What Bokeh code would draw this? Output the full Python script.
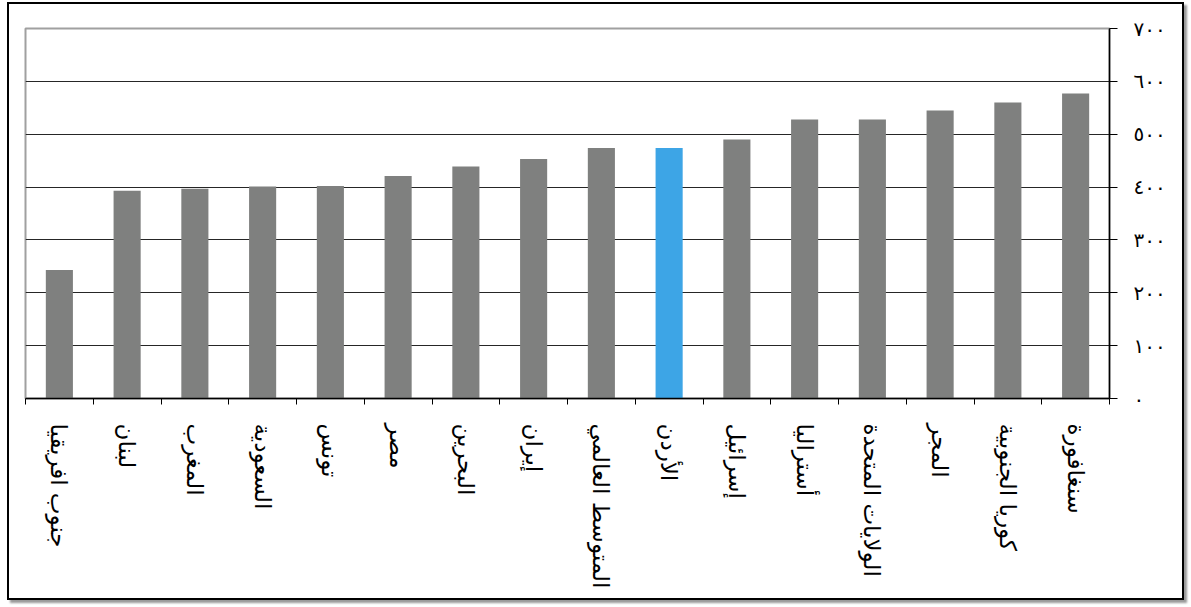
from bokeh.plotting import figure
from bokeh.models import LinearAxis, FixedTicker, Range1d
from bokeh.embed import file_html
from bokeh.resources import INLINE

countries = ["جنوب افريقيا", "لبنان", "المغرب", "السعودية", "تونس", "مصر", "البحرين", "إيران",
             "المتوسط العالمي", "الأردن", "إسرائيل", "أستراليا", "الولايات المتحدة", "المجر",
             "كوريا الجنوبية", "سنغافورة"]
scores = [243, 393, 397, 401, 402, 421, 439, 453, 474, 474, 490, 528, 528, 545, 560, 577]
highlight = "الأردن"
y_ticks = [0, 100, 200, 300, 400, 500, 600, 700]
y_tick_labels = ["٠", "١٠٠", "٢٠٠", "٣٠٠", "٤٠٠", "٥٠٠", "٦٠٠", "٧٠٠"]

n = len(countries)
xs = [i + 0.5 for i in range(n)]
colors = ["#3DA5E6" if c == highlight else "#7F807F" for c in countries]

FONT = "DejaVu Sans"

p = figure(width=1177, height=598, output_backend="svg", toolbar_location=None,
           x_range=Range1d(0, n), y_range=Range1d(0, 700),
           x_axis_location=None, y_axis_location="right",
           min_border_left=16, min_border_top=24, min_border_right=77, min_border_bottom=204)
p.styles = {"border": "2px solid black", "box-shadow": "3px 3px 2px #9a9a9a",
            "margin-left": "7px", "margin-top": "2px"}

p.vbar(x=xs, top=scores, width=0.4, color=colors, line_color=None)

# frame outline (top/left grey)
p.outline_line_color = "#A0A0A0"
p.outline_line_width = 2

# grid
p.xgrid.visible = False
p.ygrid.ticker = FixedTicker(ticks=y_ticks[1:-1])
p.ygrid.grid_line_color = "#262626"
p.ygrid.grid_line_width = 1

# right y axis
ya = p.yaxis[0]
ya.ticker = FixedTicker(ticks=y_ticks)
ya.major_label_overrides = {t: lab for t, lab in zip(y_ticks, y_tick_labels)}
ya.minor_tick_line_color = None
ya.major_tick_out = 8
ya.major_tick_in = 0
ya.axis_line_color = "black"
ya.axis_line_width = 1.5
ya.major_tick_line_color = "black"
ya.major_label_standoff = 16
ya.major_label_text_font = FONT
ya.major_label_text_font_size = "20px"
ya.major_label_text_color = "black"

# x axis: ticks at category boundaries
bounds = list(range(n + 1))
xa = LinearAxis(ticker=FixedTicker(ticks=bounds))
xa.major_label_overrides = {b: "" for b in bounds}
xa.major_label_standoff = 0
xa.major_label_text_font_size = "1px"
xa.minor_tick_line_color = None
xa.major_tick_out = 6
xa.major_tick_in = 0
xa.axis_line_color = "black"
xa.axis_line_width = 1.5
xa.major_tick_line_color = "black"
p.add_layout(xa, "below")

# x axis: category labels at centres
xl = LinearAxis(ticker=FixedTicker(ticks=xs))
xl.major_label_overrides = {x: c for x, c in zip(xs, countries)}
xl.major_label_orientation = "vertical"
xl.axis_line_color = None
xl.major_tick_line_color = None
xl.minor_tick_line_color = None
xl.major_tick_out = 0
xl.major_tick_in = 0
xl.major_label_standoff = 19
xl.major_label_text_font = FONT
xl.major_label_text_font_size = "23px"
xl.major_label_text_color = "black"
p.add_layout(xl, "below")

open("out.html", "w").write(file_html(p, INLINE))
